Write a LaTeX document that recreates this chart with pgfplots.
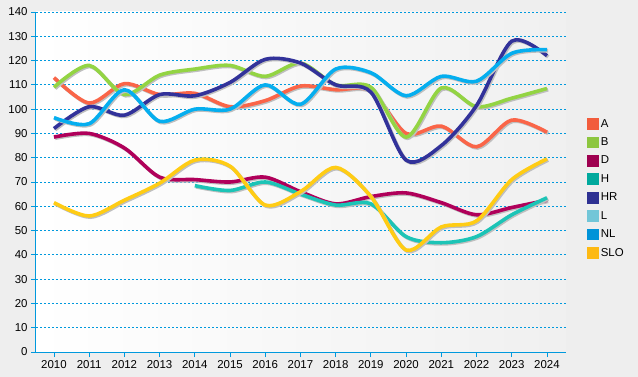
\documentclass[border=0pt]{standalone}
\usepackage{pgfplots}
\pgfplotsset{compat=1.18}
\usepackage{fontspec}
\setmainfont{Liberation Sans}
\makeatletter
\tikzset{nopre/.code={\let\tikz@preactions\pgfutil@empty}}
\makeatother
\definecolor{cA}{HTML}{FA6548}
\definecolor{cB}{HTML}{93D443}
\definecolor{cD}{HTML}{B0005A}
\definecolor{cH}{HTML}{1CC4B6}
\definecolor{cHR}{HTML}{32329A}
\definecolor{cL}{HTML}{72C6D8}
\definecolor{cNL}{HTML}{05AEEF}
\definecolor{cSLO}{HTML}{FFCC14}
\definecolor{lA}{HTML}{F25C3C}
\definecolor{lB}{HTML}{8DC63F}
\definecolor{lD}{HTML}{9E0050}
\definecolor{lH}{HTML}{00A99D}
\definecolor{lHR}{HTML}{2E3192}
\definecolor{lL}{HTML}{72C6D8}
\definecolor{lNL}{HTML}{0093D8}
\definecolor{lSLO}{HTML}{FDB913}
\definecolor{gridblue}{HTML}{0099DD}
\definecolor{outerbg}{HTML}{EEEEEE}
\pgfplotsset{sq/.style={legend image code/.code={\fill[#1, nopre] (0bp,-4bp) rectangle (8bp,4bp);}}}
\begin{document}
\begin{tikzpicture}
\fill[outerbg] (-36bp,-25bp) rectangle (602bp,352bp);
\begin{axis}[
  at={(0,0)}, anchor=south west,
  scale only axis, width=530bp, height=340bp,
  xmin=2009.49, xmax=2024.54, ymin=0, ymax=140,
  xtick={2010,...,2024}, ytick={0,10,...,140},
  xticklabel style={/pgf/number format/1000 sep=},
  /pgf/number format/assume math mode=true,
  tick label style={font=\fontsize{11.5}{13}\selectfont, text=black},
  axis x line*=bottom, axis y line*=left,
  axis line style={-, draw=gridblue, line width=1bp},
  tick style={draw=gridblue, line width=0.8bp},
  tick align=outside, major tick length=5bp,
  ymajorgrids,
  major grid style={draw=gridblue, line width=0.8bp, dash pattern=on 2bp off 2bp},
  axis background/.style={left color=white, right color=outerbg!90},
  every axis plot/.append style={line width=3.6bp, smooth, no markers,
     preaction={draw=black!25, transform canvas={shift={(1.2bp,-1.2bp)}}}},
  legend style={at={(548bp,237bp)}, anchor=north west, draw=none, fill=none,
     font=\fontsize{11.5}{13}\selectfont, row sep=5.1bp,
     cells={anchor=west}},
  legend cell align=left,
]
\addplot[cA, sq=lA] coordinates {
(2010,113) (2011,102.5) (2012,110.5) (2013,106) (2014,106.5) (2015,101) (2016,103.5) (2017,109.5) (2018,108) (2019,107.5) (2020,90) (2021,93) (2022,84.5) (2023,95.5) (2024,90.5)};
\addlegendentry{A}
\addplot[cB, sq=lB] coordinates {
(2010,109) (2011,118) (2012,106) (2013,114) (2014,116.5) (2015,118) (2016,113.5) (2017,119) (2018,110) (2019,109) (2020,88.5) (2021,108.7) (2022,101) (2023,104.5) (2024,108.5)};
\addlegendentry{B}
\addplot[cD, sq=lD] coordinates {
(2010,88.5) (2011,90) (2012,84) (2013,72) (2014,71) (2015,70) (2016,72) (2017,66) (2018,61) (2019,64) (2020,65.5) (2021,61.5) (2022,56.5) (2023,59.5) (2024,62.5)};
\addlegendentry{D}
\addplot[cH, sq=lH] coordinates {
(2014,68.5) (2015,66.5) (2016,70) (2017,65) (2018,60.5) (2019,61) (2020,47.5) (2021,45) (2022,47.5) (2023,56.5) (2024,63.5)};
\addlegendentry{H}
\addplot[cHR, sq=lHR] coordinates {
(2010,92) (2011,101) (2012,97.5) (2013,106) (2014,105.5) (2015,111) (2016,120.5) (2017,119) (2018,110) (2019,107) (2020,79) (2021,85) (2022,101.5) (2023,128) (2024,122)};
\addlegendentry{HR}
\addlegendimage{sq=lL}
\addlegendentry{L}
\addplot[cNL, sq=lNL] coordinates {
(2010,96.5) (2011,94) (2012,108) (2013,95) (2014,100) (2015,100) (2016,110) (2017,102) (2018,116.5) (2019,115) (2020,105.5) (2021,113.5) (2022,111.5) (2023,123) (2024,124.5)};
\addlegendentry{NL}
\addplot[cSLO, sq=lSLO] coordinates {
(2010,61.5) (2011,56) (2012,62.5) (2013,69.5) (2014,79) (2015,76.5) (2016,60.5) (2017,66) (2018,76) (2019,64) (2020,42) (2021,51.5) (2022,54) (2023,71) (2024,79.5)};
\addlegendentry{SLO}
\end{axis}
\end{tikzpicture}
\end{document}
